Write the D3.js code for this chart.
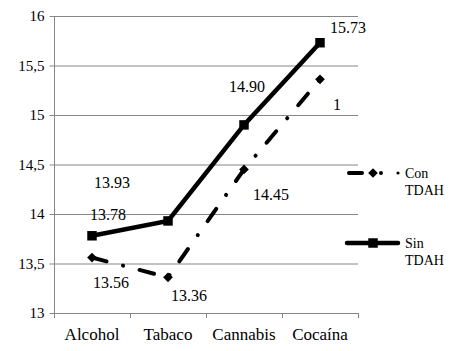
<!DOCTYPE html>
<html><head><meta charset="utf-8">
<script src="https://cdn.jsdelivr.net/npm/d3@7"></script>
<style>body{margin:0;background:#fff;} svg{display:block;}</style>
</head><body>
<svg id="c" width="459" height="351"></svg>
<script>
const categories = ["Alcohol", "Tabaco", "Cannabis", "Cocaína"];
const conTDAH = [13.56, 13.36, 14.45, 15.36];
const sinTDAH = [13.78, 13.93, 14.90, 15.73];
const conLabels = ["13.56", "13.36", "14.45", "1"];
const sinLabels = ["13.78", "13.93", "14.90", "15.73"];
const yTicks = [13, 13.5, 14, 14.5, 15, 15.5, 16];
const yTickLabels = ["13", "13,5", "14", "14,5", "15", "15,5", "16"];
const seriesNames = [["Con", "TDAH"], ["Sin", "TDAH"]];

const svg = d3.select("#c");
const font = "Liberation Serif, Tinos, Times New Roman, DejaVu Serif, serif";
const L = 54, R = 358, T = 16, B = 313;
const x = d3.scaleBand().domain(categories).range([L, R]);
const y = d3.scaleLinear().domain([13, 16]).range([B, T]);
const cx = c => x(c) + x.bandwidth() / 2;

// gridlines
svg.append("g").selectAll("line").data(yTicks.slice(1)).join("line")
  .attr("x1", L).attr("x2", R).attr("y1", d => y(d) + 0.5).attr("y2", d => y(d) + 0.5)
  .attr("stroke", "#868686").attr("stroke-width", 1);

// y axis
const ya = svg.append("g").attr("transform", `translate(${L + 0.5},0)`)
  .call(d3.axisLeft(y).tickValues(yTicks).tickSize(5).tickFormat((d, i) => yTickLabels[i]));
ya.attr("font-family", font).attr("font-size", 15);
ya.select(".domain").attr("stroke", "#868686").attr("d", `M0,${y(16)}V${y(13)}`);
ya.selectAll(".tick line").attr("stroke", "#868686");
ya.selectAll(".tick text").attr("fill", "#000").attr("x", -10);

// x axis
const xa = svg.append("g").attr("transform", `translate(0,${B + 0.5})`)
  .call(d3.axisBottom(x).tickSize(0).tickPadding(14));
xa.attr("font-family", font).attr("font-size", 17);
xa.select(".domain").attr("stroke", "#868686").attr("d", `M${L},0H${R}`);
xa.selectAll(".tick text").attr("fill", "#000");
svg.append("g").selectAll("line").data(d3.range(categories.length + 1)).join("line")
  .attr("x1", i => L + 0.5 + i * x.bandwidth()).attr("x2", i => L + 0.5 + i * x.bandwidth())
  .attr("y1", B).attr("y2", B + 5).attr("stroke", "#868686");

const line = d3.line().x((d, i) => cx(categories[i])).y(d => y(d));

// Con TDAH dash-dot line
svg.append("path").datum(conTDAH).attr("d", line).attr("fill", "none")
  .attr("stroke", "#000").attr("stroke-width", 4).attr("stroke-linecap", "round")
  .attr("stroke-dasharray", "15,17,0.1,17");
// Sin TDAH solid line
svg.append("path").datum(sinTDAH).attr("d", line).attr("fill", "none")
  .attr("stroke", "#000").attr("stroke-width", 4.5);

const diamond = d3.symbol().type(d3.symbolDiamond2).size(60);
const square = d3.symbol().type(d3.symbolSquare).size(90);

svg.append("g").selectAll("path").data(conTDAH).join("path")
  .attr("d", diamond).attr("transform", (d, i) => `translate(${cx(categories[i])},${y(d)})`).attr("fill", "#000");
svg.append("g").selectAll("path").data(sinTDAH).join("path")
  .attr("d", square).attr("transform", (d, i) => `translate(${cx(categories[i])},${y(d)})`).attr("fill", "#000");

// data labels
const conOff = [[19, 25], [21, 18], [27, 25], [17, 25]];
const sinOff = [[16, -21], [-56, -38], [3, -38], [28, -15]];
const labels = svg.append("g").attr("font-family", font).attr("font-size", 16);
labels.selectAll("text.con").data(conTDAH).join("text").attr("class", "con")
  .attr("x", (d, i) => cx(categories[i]) + conOff[i][0]).attr("y", (d, i) => y(d) + conOff[i][1])
  .attr("text-anchor", "middle").attr("dominant-baseline", "central")
  .text((d, i) => conLabels[i]);
labels.selectAll("text.sin").data(sinTDAH).join("text").attr("class", "sin")
  .attr("x", (d, i) => cx(categories[i]) + sinOff[i][0]).attr("y", (d, i) => y(d) + sinOff[i][1])
  .attr("text-anchor", "middle").attr("dominant-baseline", "central")
  .text((d, i) => sinLabels[i]);

// legend
const lg = svg.append("g").attr("font-family", font).attr("font-size", 14);
const ly = [173, 243];
lg.append("line").attr("x1", 349).attr("x2", 362).attr("y1", ly[0]).attr("y2", ly[0])
  .attr("stroke", "#000").attr("stroke-width", 4).attr("stroke-linecap", "round");
lg.append("path").attr("d", diamond).attr("transform", `translate(373,${ly[0]})`);
lg.append("circle").attr("cx", 381).attr("cy", ly[0]).attr("r", 2);
lg.append("circle").attr("cx", 398).attr("cy", ly[0]).attr("r", 1.6);
lg.append("line").attr("x1", 347).attr("x2", 398).attr("y1", ly[1]).attr("y2", ly[1])
  .attr("stroke", "#000").attr("stroke-width", 4.5).attr("stroke-linecap", "round");
lg.append("path").attr("d", square).attr("transform", `translate(373,${ly[1]})`);
seriesNames.forEach((n, k) => {
  n.forEach((t, j) => {
    lg.append("text").attr("x", 405).attr("y", ly[k] + j * 17)
      .attr("dominant-baseline", "central").text(t);
  });
});
</script>
</body></html>
